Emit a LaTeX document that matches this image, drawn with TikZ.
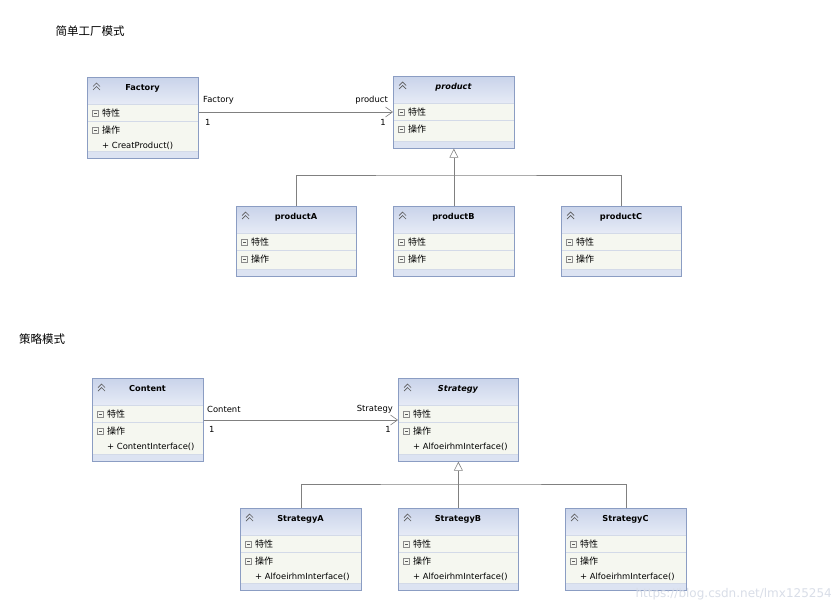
\documentclass[tikz,border=0pt]{standalone}
\usepackage{fontspec}
\setmainfont{DejaVu Sans}
\newfontfamily\cjk{Noto Sans CJK SC}
\usetikzlibrary{arrows.meta}
\definecolor{bordc}{HTML}{8B9DC3}
\definecolor{hdrtop}{HTML}{C9D3EA}
\definecolor{hdrbot}{HTML}{E6EBF6}
\definecolor{secfill}{HTML}{F5F7F0}
\definecolor{sepc}{HTML}{D3DAE8}
\definecolor{stripc}{HTML}{DCE3F2}
\definecolor{iconc}{HTML}{5A5A5A}
\definecolor{linec}{HTML}{808080}
\definecolor{wmark}{HTML}{D9DEE8}
\tikzset{
  txt/.style={inner sep=0pt, font=\fontsize{8.4}{10}\selectfont, text=black},
  cjktxt/.style={inner sep=0pt, font=\cjk\fontsize{9}{10}\selectfont, text=black},
  ttl/.style={inner sep=0pt, font=\bfseries\fontsize{8.2}{10}\selectfont, text=black},
  heading/.style={inner sep=0pt, font=\cjk\fontsize{11.5}{13}\selectfont, text=black},
  assoc/.style={draw=linec, line width=0.6pt, -{Straight Barb[length=7pt,width=10pt,line width=0.6pt]}},
  inh/.style={draw=linec, line width=0.6pt},
  inharrow/.style={draw=linec, line width=0.6pt, -{Triangle[open,length=9pt,width=9pt,line width=0.6pt,fill=white]}},
  lbl/.style={inner sep=0pt, font=\fontsize{8.4}{10}\selectfont, text=black}
}
% #1 name, #2 x, #3 y, #4 width, #5 height, #6 title, #7 method
\newcommand\classbox[7]{%
  \shade[top color=hdrtop,bottom color=hdrbot] (#2,#3) rectangle ++(#4,27);
  \fill[secfill] (#2,#3+27) rectangle (#2+#4,#3+#5-7);
  \fill[stripc] (#2,#3+#5-7) rectangle (#2+#4,#3+#5);
  \draw[sepc] (#2,#3+27) -- ++(#4,0);
  \draw[sepc] (#2,#3+44) -- ++(#4,0);
  \draw[sepc] (#2,#3+#5-7) -- ++(#4,0);
  \node[draw=bordc, line width=0.7pt, minimum width=#4, minimum height=#5, anchor=north west, inner sep=0pt] (#1) at (#2,#3) {};
  \draw[iconc, line width=0.7pt] (#2+6,#3+9.5) -- ++(3.5,-3.5) -- ++(3.5,3.5);
  \draw[iconc, line width=0.7pt] (#2+6,#3+13) -- ++(3.5,-3.5) -- ++(3.5,3.5);
  \node[ttl] (#1-t) at (#2+#4/2,#3+11) {#6};
  \draw[iconc!70, line width=0.4pt] (#2+5.5,#3+33) rectangle ++(6,6);
  \draw[iconc, line width=0.5pt] (#2+7,#3+36) -- ++(3,0);
  \node[cjktxt, anchor=west] (#1-a) at (#2+15,#3+36) {特性};
  \draw[iconc!70, line width=0.4pt] (#2+5.5,#3+50) rectangle ++(6,6);
  \draw[iconc, line width=0.5pt] (#2+7,#3+53) -- ++(3,0);
  \node[cjktxt, anchor=west] (#1-o) at (#2+15,#3+53) {操作};
  \if\relax\detokenize{#7}\relax\else
    \node[txt, anchor=west] (#1-m) at (#2+15,#3+69) {#7};
  \fi
}
\begin{document}
\begin{tikzpicture}[x=1pt,y=-1pt]
\useasboundingbox (0,0) rectangle (837,610);
\fill[white] (0,0) rectangle (837,610);

% ---------- Simple factory ----------
\node[heading] (h1) at (90,31) {简单工厂模式};
\classbox{factory}{87}{77}{111}{81}{Factory}{+ CreatProduct()}
\classbox{product}{393}{76}{121}{72}{\itshape product}{}
\classbox{pA}{236}{206}{120}{70}{productA}{}
\classbox{pB}{393}{206}{121}{70}{productB}{}
\classbox{pC}{561}{206}{120}{70}{productC}{}

\draw[assoc] ([yshift=-35pt]factory.north east) -- ([yshift=-36pt]product.north west);
\node[lbl, anchor=west] (l1) at (203,100) {Factory};
\node[lbl, anchor=west] (l2) at (205,122) {1};
\node[lbl, anchor=east] (l3) at (388,100) {product};
\node[lbl, anchor=east] (l4) at (386,122) {1};

\coordinate (j1) at (453.5,175);
\draw[inh] (pA.north) |- (j1) -| (pC.north);
\draw[inharrow] (pB.north) -- (product.south);

% ---------- Strategy ----------
\node[heading] (h2) at (42,339) {策略模式};
\classbox{content}{92}{378}{111}{83}{Content}{+ ContentInterface()}
\classbox{strategy}{398}{378}{120}{83}{\itshape Strategy}{+ AlfoeirhmInterface()}
\classbox{sA}{240}{508}{121}{82}{StrategyA}{+ AlfoeirhmInterface()}
\classbox{sB}{398}{508}{120}{82}{StrategyB}{+ AlfoeirhmInterface()}
\classbox{sC}{565}{508}{121}{82}{StrategyC}{+ AlfoeirhmInterface()}

\draw[assoc] ([yshift=-42pt]content.north east) -- ([yshift=-42pt]strategy.north west);
\node[lbl, anchor=west] (l5) at (207,409) {Content};
\node[lbl, anchor=west] (l6) at (209,429) {1};
\node[lbl, anchor=east] (l7) at (393,409) {Strategy};
\node[lbl, anchor=east] (l8) at (391,429) {1};

\coordinate (j2) at (458,484);
\draw[inh] (sA.north) |- (j2) -| (sC.north);
\draw[inharrow] (sB.north) -- (strategy.south);

\node[inner sep=0pt, font=\fontsize{12}{14}\selectfont, text=wmark, anchor=east] (wm) at (832,594) {https://blog.csdn.net/lmx125254};
\end{tikzpicture}
\end{document}
